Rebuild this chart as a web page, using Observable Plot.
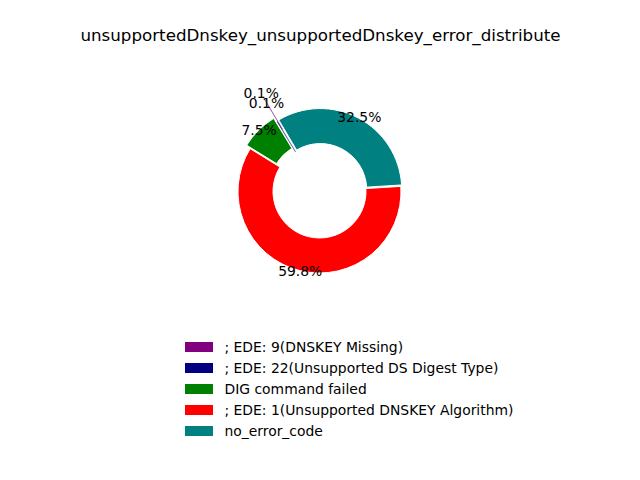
<!DOCTYPE html>
<html>
<head>
<meta charset="utf-8">
<script src="https://cdn.jsdelivr.net/npm/d3@7"></script>
<script src="https://cdn.jsdelivr.net/npm/@observablehq/plot@0.6"></script>
<style>
  html, body { margin: 0; padding: 0; background: #fff; }
  svg { font-family: "DejaVu Sans", sans-serif; }
</style>
</head>
<body>
<div id="chart"></div>
<script>
const title = "unsupportedDnskey_unsupportedDnskey_error_distribute";
const labels = [
  "; EDE: 9(DNSKEY Missing)",
  "; EDE: 22(Unsupported DS Digest Type)",
  "DIG command failed",
  "; EDE: 1(Unsupported DNSKEY Algorithm)",
  "no_error_code"
];
const shares = [0.1, 0.1, 7.5, 59.8, 32.5];
const colors = ["#800080", "#000080", "#008000", "#ff0000", "#008080"];
const explode = [0.32, 0.0, 0.06, 0, 0.02];       // fraction of radius
const labelDist = [1.41, 1.27, 1.06, 1.0, 1.03];   // fraction of radius
const startAngle = 120.6; // degrees, counter-clockwise from 3 o'clock

// layout
const W = 640, H = 480;
const cx = 319.5, cy = 191.5, R = 81.5, r0 = 46.5;
const legX = 185, legY = 347, legStep = 21, swW = 28, swH = 10;

const total = d3.sum(shares);
const slices = [];
let acc = startAngle;
shares.forEach((v, i) => {
  const a0 = acc, a1 = acc + v / total * 360;
  acc = a1;
  const mid = (a0 + a1) / 2 * Math.PI / 180;
  const off = explode[i] * R;
  const lr = labelDist[i] * R;
  slices.push({
    label: labels[i], value: v, a0, a1, mid, off,
    tiny: v / total < 0.01,
    ox: off * Math.cos(mid), oy: -off * Math.sin(mid),
    lx: cx + lr * Math.cos(mid), ly: cy - lr * Math.sin(mid),
    text: v.toFixed(1) + "%"
  });
});

const arc = d3.arc().innerRadius(r0).outerRadius(R);
const toRad = (deg) => deg * Math.PI / 180;

function pieMark(index, scales, values, dimensions, context) {
  const g = d3.create("svg:g");
  for (const s of slices) {
    const p = g.append("path")
      .attr("d", arc({startAngle: toRad(90 - s.a1), endAngle: toRad(90 - s.a0)}))
      .attr("transform", `translate(${cx + s.ox},${cy + s.oy})`)
      .attr("fill", scales.color(s.label))
      .attr("stroke-linejoin", "round");
    if (s.tiny) {
      p.attr("fill-opacity", 0.5)
       .attr("stroke", scales.color(s.label)).attr("stroke-width", 1).attr("stroke-opacity", 0.3);
    } else {
      p.attr("stroke", "white").attr("stroke-width", 1);
    }
  }
  return g.node();
}

const legendRows = labels.map((l, i) => ({label: l, y: legY + i * legStep}));

const chart = Plot.plot({
  width: W,
  height: H,
  margin: 0,
  x: {type: "identity", axis: null},
  y: {type: "identity", axis: null},
  color: {domain: labels, range: colors},
  style: {fontFamily: "DejaVu Sans, sans-serif", background: "white"},
  marks: [
    pieMark,
    Plot.text(slices, {x: "lx", y: "ly", text: "text", fontSize: 13.9, fill: "black", textAnchor: "middle"}),
    Plot.text([title], {x: () => W / 2, y: () => 35, text: d => d, fontSize: 16.7, fill: "black"}),
    Plot.rect(legendRows, {x1: () => legX, x2: () => legX + swW, y1: d => d.y - swH / 2, y2: d => d.y + swH / 2, fill: "label"}),
    Plot.text(legendRows, {x: () => legX + swW + 11, y: "y", text: "label", textAnchor: "start", fontSize: 13.9, fill: "black"})
  ]
});
document.getElementById("chart").appendChild(chart);
</script>
</body>
</html>
